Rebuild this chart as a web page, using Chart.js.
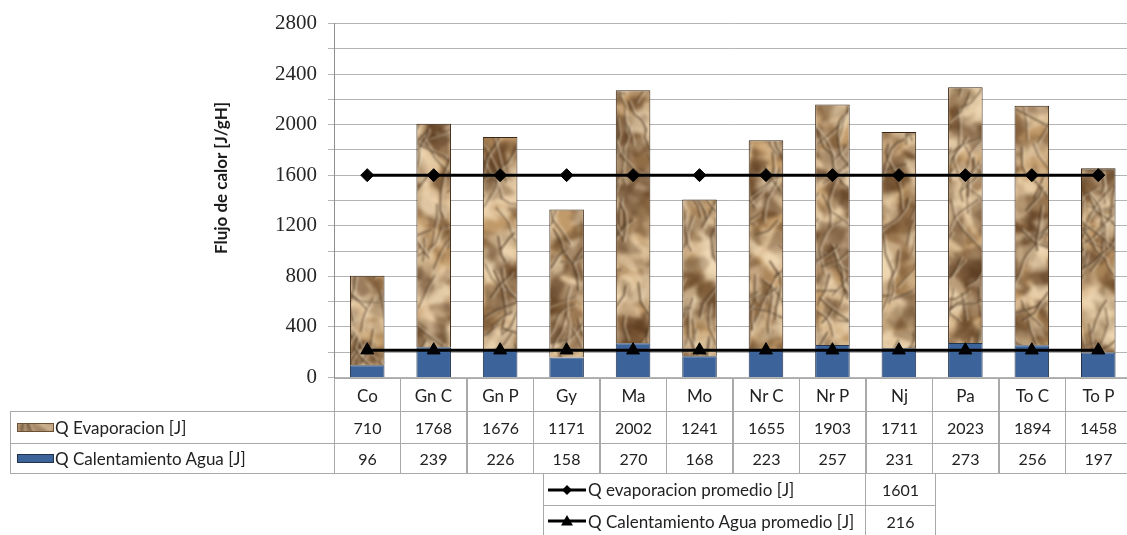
<!DOCTYPE html>
<html>
<head>
<meta charset="utf-8">
<script src="https://cdn.jsdelivr.net/npm/chart.js@4.4.1/dist/chart.umd.min.js"></script>
<style>
  html, body { margin: 0; padding: 0; background: #fff; }
  #wrap { position: relative; width: 1127px; height: 535px; overflow: hidden; background: #fff; }
  #c { position: absolute; left: 0; top: 0; }
  .cell { position: absolute; box-sizing: border-box; border: 1px solid #a9a9a9; background: transparent;
          font-family: 'Lato', 'Liberation Sans', sans-serif; font-size: 16px; color: #222;
          display: flex; align-items: center; justify-content: center; white-space: nowrap; }
  .cell.head { font-size: 17px; }
  .cell.lab { justify-content: flex-start; font-size: 17px; }
  .ytitle { position: absolute; width: 240px; text-align: center; font-family: 'Lato', sans-serif;
            font-weight: bold; font-size: 17px; line-height: 20px; color: #1a1a1a; transform: rotate(-90deg); white-space: nowrap; }
</style>
</head>
<body>
<div id="wrap">
  <canvas id="c" width="1140" height="535" style="width:1140px;height:535px"></canvas>
</div>
<script>
// ---- data ----
const categories = ['Co', 'Gn C', 'Gn P', 'Gy', 'Ma', 'Mo', 'Nr C', 'Nr P', 'Nj', 'Pa', 'To C', 'To P'];
const qEvaporacion = [710, 1768, 1676, 1171, 2002, 1241, 1655, 1903, 1711, 2023, 1894, 1458];
const qCalentamiento = [96, 239, 226, 158, 270, 168, 223, 257, 231, 273, 256, 197];
const evapPromedio = 1601;
const calentPromedio = 216;
const yTickLabels = [0, 400, 800, 1200, 1600, 2000, 2400, 2800];

const evapName = 'Q Evaporacion [J]';
const calentName = 'Q Calentamiento Agua [J]';
const evapAvgName = 'Q evaporacion promedio [J]';
const calentAvgName = 'Q Calentamiento Agua promedio [J]';
const yTitle = 'Flujo de calor [J/gH]';

const BLUE = '#3c649b';

// ---- crumpled kraft-paper fill, one sheet covering the whole plot ----
function paperTexture(w, h) {
  let seed = 41017;
  const rnd = () => { seed = (seed * 1664525 + 1013904223) >>> 0; return seed / 4294967296; };
  const area = w * h;

  const a = document.createElement('canvas');
  a.width = w; a.height = h;
  const g = a.getContext('2d');
  g.fillStyle = '#c19a6a';
  g.fillRect(0, 0, w, h);
  // facets of light and shadow
  const nFacets = Math.round(area / 110);
  for (let i = 0; i < nFacets; i++) {
    const cx = rnd() * w, cy = rnd() * h, r = 7 + rnd() * 20;
    const nv = 3 + Math.floor(rnd() * 3);
    let t = rnd() * Math.PI * 2;
    const light = rnd() < 0.55;
    const al = 0.2 + rnd() * 0.34;
    g.fillStyle = light ? `rgba(242,220,184,${al})` : `rgba(92,60,32,${al})`;
    g.beginPath();
    for (let k = 0; k < nv; k++) {
      t += (Math.PI * 2 / nv) * (0.6 + rnd() * 0.8);
      const rr = r * (0.5 + rnd() * 0.6);
      const px = cx + Math.cos(t) * rr, py = cy + Math.sin(t) * rr;
      k ? g.lineTo(px, py) : g.moveTo(px, py);
    }
    g.closePath();
    g.fill();
  }
  const b = document.createElement('canvas');
  b.width = w; b.height = h;
  const bg = b.getContext('2d');
  bg.fillStyle = '#c19a6a';
  bg.fillRect(0, 0, w, h);
  bg.filter = 'blur(1.5px)';
  bg.drawImage(a, 0, 0);
  bg.filter = 'none';

  // creases, mostly running steeply
  bg.lineCap = 'round'; bg.lineJoin = 'round';
  const nCreases = Math.round(area / 560);
  for (let i = 0; i < nCreases; i++) {
    let x = rnd() * w, y = rnd() * h;
    let ang = Math.PI * (0.3 + rnd() * 0.4) + (rnd() < 0.5 ? 0 : Math.PI * 0.15);
    const pts = [[x, y]];
    const n = 2 + Math.floor(rnd() * 4);
    for (let k = 0; k < n; k++) {
      ang += (rnd() - 0.5) * 1.1;
      const L = 7 + rnd() * 13;
      x += Math.cos(ang) * L; y += Math.sin(ang) * L;
      pts.push([x, y]);
    }
    const dark = 0.42 + rnd() * 0.3;
    bg.strokeStyle = 'rgba(246,228,198,0.5)'; bg.lineWidth = 2.2;
    bg.beginPath();
    pts.forEach(([px, py], j) => j ? bg.lineTo(px + 1.6, py) : bg.moveTo(px + 1.6, py));
    bg.stroke();
    bg.strokeStyle = `rgba(62,38,16,${dark})`; bg.lineWidth = 1.8;
    bg.beginPath();
    pts.forEach(([px, py], j) => j ? bg.lineTo(px, py) : bg.moveTo(px, py));
    bg.stroke();
  }
  const s = document.createElement('canvas');
  s.width = w; s.height = h;
  const sg = s.getContext('2d');
  sg.fillStyle = '#c19a6a';
  sg.fillRect(0, 0, w, h);
  sg.filter = 'blur(0.9px)';
  sg.drawImage(b, 0, 0);
  return s;
}

const paperCanvas = paperTexture(1140, 400);
const ctx = document.getElementById('c').getContext('2d');
const paperPattern = ctx.createPattern(paperCanvas, 'repeat');

const chart = new Chart(ctx, {
  data: {
    labels: categories,
    datasets: [
      { type: 'line', label: evapAvgName, data: categories.map(() => evapPromedio),
        borderColor: '#000', borderWidth: 3, pointStyle: 'rectRot', pointRadius: 6.5,
        pointBackgroundColor: '#000', pointBorderColor: '#000', pointBorderWidth: 1,
        stack: 'avgEvap', order: 1 },
      { type: 'line', label: calentAvgName, data: categories.map(() => calentPromedio),
        borderColor: '#000', borderWidth: 3, pointStyle: 'triangle', pointRadius: 7.5,
        pointBackgroundColor: '#000', pointBorderColor: '#000', pointBorderWidth: 1,
        stack: 'avgCal', order: 1 },
      { type: 'bar', label: calentName, data: qCalentamiento, backgroundColor: BLUE,
        borderColor: '#24344c', borderWidth: 1, stack: 'q', order: 2 },
      { type: 'bar', label: evapName, data: qEvaporacion, backgroundColor: paperPattern,
        borderColor: '#3a2612', borderWidth: 1, stack: 'q', order: 2 }
    ]
  },
  options: {
    responsive: false,
    animation: false,
    layout: { padding: { left: 0, right: 2, top: 22, bottom: 157.5 } },
    plugins: { legend: { display: false }, tooltip: { enabled: false } },
    datasets: { bar: { categoryPercentage: 1, barPercentage: 0.52 } },
    scales: {
      x: { display: false, stacked: true, offset: true },
      y: {
        stacked: true, min: 0, max: 2800,
        afterFit(scale) { scale.width = 334; },
        ticks: {
          stepSize: 200, autoSkip: false, padding: 11,
          callback: v => yTickLabels.includes(v) ? String(v) : '',
          font: { family: 'Liberation Serif', size: 21 }, color: '#262626'
        },
        grid: { color: '#b4b4b4', lineWidth: 1, tickLength: 6 },
        border: { color: '#8e8e8e', width: 1 }
      }
    }
  }
});

// ---- data table under the plot ----
const wrap = document.getElementById('wrap');
function cell(x, y, w, h, cls) {
  const d = document.createElement('div');
  d.className = 'cell' + (cls ? ' ' + cls : '');
  d.style.left = x + 'px'; d.style.top = y + 'px';
  d.style.width = (w + 1) + 'px'; d.style.height = (h + 1) + 'px';
  wrap.appendChild(d);
  return d;
}

const area = chart.chartArea;
const xs = chart.scales.x;
const colW = (area.right - area.left) / categories.length;
const tableLeft = 10;
const rowTop = [Math.round(area.bottom), 411, 443, 473];

// category header row
categories.forEach((c, i) => {
  const x = Math.round(xs.getPixelForValue(i) - colW / 2);
  cell(x, rowTop[0], Math.round(colW), rowTop[1] - rowTop[0], 'head').textContent = c;
});

function swatchBox(bg, border) {
  const s = document.createElement('span');
  s.style.display = 'inline-block';
  s.style.width = '37px'; s.style.height = '9px';
  s.style.marginLeft = '6px'; s.style.marginRight = '1px';
  s.style.boxSizing = 'border-box';
  s.style.background = bg;
  if (border) s.style.border = '1px solid ' + border;
  return s;
}

const rows = [
  { name: evapName, values: qEvaporacion, sw: swatchBox(`url(${paperCanvas.toDataURL()}) -40px -120px`, '#6b5033') },
  { name: calentName, values: qCalentamiento, sw: swatchBox(BLUE, '#22324a') }
];
rows.forEach((r, k) => {
  const y = rowTop[k + 1], h = rowTop[k + 2] - y;
  const lab = cell(tableLeft, y, Math.round(area.left) - tableLeft, h, 'lab');
  lab.appendChild(r.sw);
  lab.appendChild(document.createTextNode(r.name));
  r.values.forEach((v, i) => {
    const x = Math.round(xs.getPixelForValue(i) - colW / 2);
    cell(x, y, Math.round(colW), h).textContent = v;
  });
});

// ---- table for the average lines ----
function lineKey(style) {
  const k = document.createElement('canvas');
  k.width = 42; k.height = 16;
  k.style.marginLeft = '2px';
  const g = k.getContext('2d');
  g.strokeStyle = '#000'; g.lineWidth = 3;
  g.beginPath(); g.moveTo(2, 8); g.lineTo(40, 8); g.stroke();
  g.fillStyle = '#000';
  g.beginPath();
  if (style === 'rectRot') {
    g.moveTo(21, 3); g.lineTo(26, 8); g.lineTo(21, 13); g.lineTo(16, 8);
  } else {
    g.moveTo(21, 2); g.lineTo(27, 12.5); g.lineTo(15, 12.5);
  }
  g.closePath(); g.fill();
  return k;
}
const avgRows = [
  { name: evapAvgName, value: evapPromedio, key: lineKey('rectRot') },
  { name: calentAvgName, value: calentPromedio, key: lineKey('triangle') }
];
const t2Left = 543, t2Mid = 865, t2Right = 935, t2Top = [473, 505, 536];
avgRows.forEach((r, k) => {
  const y = t2Top[k], h = t2Top[k + 1] - y;
  const lab = cell(t2Left, y, t2Mid - t2Left, h, 'lab');
  lab.appendChild(r.key);
  lab.appendChild(document.createTextNode(r.name));
  cell(t2Mid, y, t2Right - t2Mid, h).textContent = r.value;
});

// ---- y-axis title ----
const yt = document.createElement('div');
yt.className = 'ytitle';
yt.textContent = yTitle;
yt.style.left = (221 - 120) + 'px';
yt.style.top = (178 - 10) + 'px';
wrap.appendChild(yt);
</script>
</body>
</html>
